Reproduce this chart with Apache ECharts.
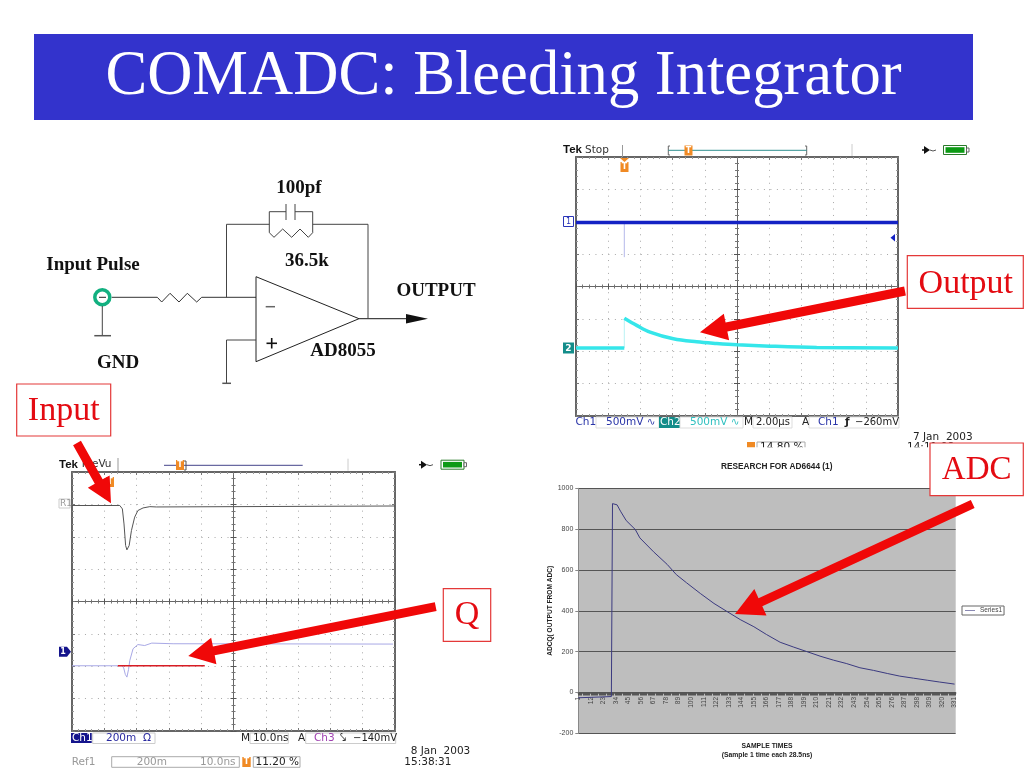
<!DOCTYPE html>
<html><head><meta charset="utf-8">
<style>html,body{margin:0;padding:0;background:#fff}#c{width:1024px;height:768px}</style>
<script src="https://cdn.jsdelivr.net/npm/echarts@6/dist/echarts.min.js"></script>
</head><body><div id="c"></div>
<script>
// Output scope (x in microseconds, y in mV)
const outCh1 = [[0,988],[20,988]];
const outCh1Spike = [[3,988],[3,453]];
const outCh2Base = [[0,-950],[3,-950]];
const outCh2Rise = [[3,-950],[3,-489]];
const outCh2Decay = [[3,-489],[3.77,-600],[4.6,-705],[6.05,-808],[7.5,-855],[8.74,-880],[10,-900],[12.05,-921],[14.95,-941],[20,-950]];
// Input scope (x in ns, y in mV)
const inR1 = [[0,593],[14.8,593],[15.6,572],[16.1,479],[16.6,346],[17,319],[17.7,346],[18.4,438],[19.4,521],[20.4,562],[22,578],[24.1,586],[26.1,584],[100,590]];
const inCh1 = [[0,-397],[15.5,-397],[16,-410],[16.5,-450],[17,-467],[17.5,-420],[17.9,-364],[18.9,-292],[20.4,-266],[22.5,-272],[24.7,-257],[31.3,-261],[99.4,-263]];
const inQ = [[14.2,-397],[41.1,-397]];
// ADC chart (sample index, ADC counts)
const adcValues = [[0,-26],[10,-24],[20,-22],[29,-20],[30,925],[33.7,919],[36.6,888],[42.4,842],[49.7,798],[54,757],[65.8,689],[77.5,627],[86.3,577],[95.1,537],[106.8,485],[118.5,436],[130.2,398],[141.9,357],[153.6,322],[165.3,284],[177,246],[188.6,222],[200.4,201],[212,178],[223.8,158],[235.4,142],[247.1,121],[258.8,108],[270.5,93],[282.2,80],[293.9,70],[305.6,60],[317.3,51],[330,41]];
const adcCategories = Array.from({length:332},(_,i)=>String(i+1));

const serif = '"Liberation Serif","Times New Roman",serif';
const sans = '"Liberation Sans",Arial,sans-serif';
const tek = '"DejaVu Sans",sans-serif';

const grids=[], xAxes=[], yAxes=[];
function scope(rect,xr,yr){
  const g0=grids.length;
  grids.push({left:rect[0],top:rect[1],width:rect[2],height:rect[3],show:false,outerBoundsMode:'none'});
  grids.push({left:rect[0],top:rect[1],width:rect[2],height:rect[3],show:false,outerBoundsMode:'none'});
  const base=(r,extra)=>Object.assign({type:'value',min:r[0],max:r[1],interval:r[2],axisLabel:{show:false},silent:true},extra);
  const frameLine={show:true,onZero:false,lineStyle:{color:'#666',width:2}};
  const frameTick={show:true,inside:true,length:3,lineStyle:{color:'#777',width:1}};
  const frameMinor={show:true,splitNumber:5,length:2,lineStyle:{color:'#999',width:1}};
  const dot=p=>({show:true,lineStyle:{color:'#a8a8a8',width:1,type:[1,p]}});
  const cl={show:true,onZero:false,lineStyle:{color:'#666',width:1}};
  const ct={show:true,length:3,lineStyle:{color:'#555',width:1}};
  const cm={show:true,splitNumber:5,length:2,lineStyle:{color:'#777',width:1}};
  xAxes.push(
    base(xr,{gridIndex:g0,position:'bottom',axisLine:frameLine,axisTick:frameTick,minorTick:frameMinor,splitLine:dot(5.44)}),
    base(xr,{gridIndex:g0,position:'top',axisLine:frameLine,axisTick:frameTick,minorTick:frameMinor,splitLine:{show:false}}),
    base(xr,{gridIndex:g0+1,position:'bottom',offset:-rect[3]/2,axisLine:cl,axisTick:ct,minorTick:cm,splitLine:{show:false}}),
    base(xr,{gridIndex:g0+1,position:'top',offset:-rect[3]/2,axisLine:cl,axisTick:ct,minorTick:cm,splitLine:{show:false}})
  );
  yAxes.push(
    base(yr,{gridIndex:g0,position:'left',axisLine:frameLine,axisTick:frameTick,minorTick:frameMinor,splitLine:dot(5.48)}),
    base(yr,{gridIndex:g0,position:'right',axisLine:frameLine,axisTick:frameTick,minorTick:frameMinor,splitLine:{show:false}}),
    base(yr,{gridIndex:g0+1,position:'left',offset:-rect[2]/2,axisLine:cl,axisTick:ct,minorTick:cm,splitLine:{show:false}}),
    base(yr,{gridIndex:g0+1,position:'right',offset:-rect[2]/2,axisLine:cl,axisTick:ct,minorTick:cm,splitLine:{show:false}})
  );
  return xAxes.length-4;
}
const ax1=scope([576,157,322,259],[0,20,2],[-2000,2000,500]);
const ax2=scope([72,472,323,259],[0,100,10],[-800,800,200]);
grids.push({left:578.3,top:488.3,width:377.4,height:245,show:true,backgroundColor:'#bebebe',borderWidth:0,outerBoundsMode:'none'});
xAxes.push({gridIndex:4,type:'category',data:adcCategories,boundaryGap:false,position:'bottom',offset:-40.8,
  name:'SAMPLE TIMES\n(Sample 1 time each 28.5ns)',nameLocation:'middle',nameGap:49,
  nameTextStyle:{fontFamily:sans,fontSize:6.8,fontWeight:'bold',color:'#222',lineHeight:9.2},
  axisLine:{onZero:false,lineStyle:{color:'#555',width:1.5}},
  axisTick:{show:true,interval:0,length:3,lineStyle:{color:'#555',width:1}},
  axisLabel:{interval:10,rotate:90,fontFamily:sans,fontSize:6.5,color:'#444',margin:4.5},splitLine:{show:false}});
yAxes.push({gridIndex:4,type:'value',min:-200,max:1000,interval:200,
  name:'ADCQ( OUTPUT FROM ADC)',nameLocation:'middle',nameRotate:90,nameGap:24,
  nameTextStyle:{fontFamily:sans,fontSize:6.6,fontWeight:'bold',color:'#222'},
  axisLine:{show:true,onZero:false,lineStyle:{color:'#888'}},axisTick:{show:true,length:3,lineStyle:{color:'#888'}},
  axisLabel:{fontFamily:sans,fontSize:7,color:'#444',margin:5,formatter:v=>String(v)},
  splitLine:{show:true,lineStyle:{color:'#555',width:1}}});

const line=(name,data,ax,color,width,extra)=>Object.assign({type:'line',name,data,xAxisIndex:ax,yAxisIndex:ax,showSymbol:false,symbol:'none',silent:true,animation:false,
  lineStyle:{color,width,cap:'butt'},z:5},extra||{});
const series=[
  line('Ch1 spike',outCh1Spike,ax1,'#b4b8ea',1),
  line('Ch1',outCh1,ax1,'#1422c4',3.5),
  line('Ch2 rise',outCh2Rise,ax1,'#b9f2f4',1),
  line('Ch2 base',outCh2Base,ax1,'#35e6ea',3.5),
  line('Ch2',outCh2Decay,ax1,'#35e6ea',3.5,{smooth:0.35}),
  line('R1',inR1,ax2,'#555555',1),
  line('Ch1 in',inCh1,ax2,'#a9a9e6',1),
  line('Q',inQ,ax2,'#d81c24',1.5),
  {type:'line',name:'Series1',data:adcValues,xAxisIndex:8,yAxisIndex:8,showSymbol:false,symbol:'none',silent:true,animation:false,lineStyle:{color:'#3b3a80',width:1},itemStyle:{color:'#3b3a80'},z:5}
];

// graphic helpers
const G=[];
const T=(text,x,y,o={})=>G.push({type:'text',z:o.z||50,silent:true,style:{text,x,y,fill:o.c||'#222',font:(o.b?'bold ':'')+(o.s||10)+'px '+(o.f||tek),textAlign:o.a||'left',textVerticalAlign:'middle'}});
const PL=(pts,c='#444',w=1,z=20)=>G.push({type:'polyline',z,silent:true,shape:{points:pts},style:{stroke:c,lineWidth:w,fill:null}});
const PG=(pts,c,z=20)=>G.push({type:'polygon',z,silent:true,shape:{points:pts},style:{fill:c}});
const R=(x,y,w,h,fill,stroke,z=20,lw=1)=>G.push({type:'rect',z,silent:true,shape:{x,y,width:w,height:h},style:{fill:fill||null,stroke:stroke||null,lineWidth:lw}});
const C=(cx,cy,r,fill,stroke,lw,z=20)=>G.push({type:'circle',z,silent:true,shape:{cx,cy,r},style:{fill:fill||null,stroke:stroke||null,lineWidth:lw||1}});
function arrow(x1,y1,x2,y2,w,hl,hw){
  const d=Math.hypot(x2-x1,y2-y1),ux=(x2-x1)/d,uy=(y2-y1)/d,nx=-uy,ny=ux,bx=x2-ux*hl,by=y2-uy*hl;
  PG([[x1+nx*w/2,y1+ny*w/2],[bx+nx*w/2,by+ny*w/2],[bx+nx*hw/2,by+ny*hw/2],[x2,y2],[bx-nx*hw/2,by-ny*hw/2],[bx-nx*w/2,by-ny*w/2],[x1-nx*w/2,y1-ny*w/2]],'#f00808',100);
}
// title band
R(34,34,939,86,'#3333cc',null,1);
T('COMADC: Bleeding Integrator',503.5,78,{s:62.6,f:serif,c:'#fff',a:'center'});

// schematic
const wire='#444';
PL([[111.7,297.3],[157.3,297.3],[161.7,302],[170,293.3],[179,302],[187.3,293.3],[196.7,302],[201.7,297.3],[256,297.3]],'#333');
C(102.3,297.3,7.5,'#fff','#12b080',3.5);
PL([[99,297.3],[106,297.3]],'#222');
PL([[102.3,306],[102.3,335.7]]); PL([[94.3,335.7],[111,335.7]],'#555',1.5);
PL([[226.5,297.3],[226.5,224.3],[269.3,224.3]],wire);
PL([[312.7,224.3],[368,224.3],[368,318.3]],wire);
PL([[269.3,232.7],[269.3,211.7],[286,211.7]],wire);
PL([[295,211.7],[312.7,211.7],[312.7,232.7]],wire);
PL([[286,204],[286,220]],wire); PL([[295,204],[295,220]],wire);
PL([[269.3,232.7],[274,237.3],[282.7,229],[291.7,237.3],[300,229],[308.3,237.3],[312.7,232.7]],wire);
PG([[256,276.7],[256,361.7],[359,318.7]],'#fff',18);
PL([[256,276.7],[256,361.7],[359,318.7],[256,276.7]],'#222');
PL([[359,318.7],[408,318.7]],wire,1.2);
PG([[406,314],[406,323.5],[428,318.7]],'#111');
PL([[265.7,306.7],[275,306.7]],'#666',1.5);
PL([[266.5,343.3],[277,343.3]],'#111',1.6); PL([[271.7,338],[271.7,348.5]],'#111',1.6);
PL([[256,340],[226.5,340],[226.5,383.3]],wire);
PL([[222.3,383.3],[231,383.3]],'#555',1.5);
const sb={b:true,s:19,f:serif,c:'#111',a:'center'};
T('100pf',299,188,sb); T('36.5k',307,261,sb); T('Input Pulse',93,265,sb);
T('OUTPUT',436,291,sb); T('GND',118,363,sb); T('AD8055',343,351,sb);

// scope decorations
function hdr(tekX,y,word,wordX,batX,plugX,tickX){
  T('Tek',tekX,y,{b:true,s:11.5,f:sans,c:'#111'});
  T(word,wordX,y,{s:10.5,c:'#333'});
  PG([[plugX+2,y-4],[plugX+2,y+4],[plugX+8,y]],'#111');
  PL([[plugX,y],[plugX+4,y]],'#111',1.5);
  PL([[plugX+8,y],[plugX+11,y+1],[plugX+14,y]],'#555');
  R(batX,y-4.5,23,9,'#fff','#2a7a2a');
  R(batX+2,y-2.8,19,5.6,'#0d9a15');
  R(batX+23,y-2,2.5,4,'#fff','#666');
  PL([[tickX,y-6],[tickX,y+6]],'#ccc');
}
const orange='#f08a24';
function orangeT(x,y){ PG([[x-4,y-5],[x+4,y-5],[x+4,y+5],[x-4,y+5]],orange); T('T',x,y,{s:8,b:true,c:'#fff',a:'center'}); }
hdr(563,150,'Stop',585,943.5,922,852);
PL([[622.5,145],[622.5,157]],'#999');
PL([[670,146],[668.3,146],[668.3,155],[670,155]],'#666');
PL([[805,146],[806.7,146],[806.7,155],[805,155]],'#666');
PL([[668.3,150.3],[806.7,150.3]],'#2f8f8f');
orangeT(688.5,150.5);
PG([[620,158],[629,158],[624.5,162]],orange); orangeT(624.5,167);
R(563.5,216.5,10,10,'#fff','#2a35b8'); T('1',568.5,221.7,{s:8,c:'#2a35b8',a:'center'});
R(563,342.5,11,11,'#148d8a'); T('2',568.5,348.2,{s:9,b:true,c:'#fff',a:'center'});
PG([[890.5,237.7],[895,234],[895,241.5]],'#1422c4');

T('Ch1',575.5,422.5,{c:'#2a35a8',s:10.5});
R(596,417,63,11,'#fff','#ddd'); T('500mV ∿',606,422.5,{c:'#2a35a8',s:10.5});
R(659,417,21,11,'#148d8a'); T('Ch2',660,422.5,{c:'#fff',s:10.5});
R(680,417,63,11,'#fff','#ddd'); T('500mV ∿',690,422.5,{c:'#30c0c0',s:10.5});
T('M',744,422.5,{s:10.5}); R(753,417,39,11,'#fff','#ddd'); T('2.00µs',756,422.5,{s:10});
T('A',802,422.5,{s:10.5}); R(809,417,90,11,'#fff','#ddd');
T('Ch1',818,422.5,{c:'#2a35a8',s:10.5}); T('ƒ',845,422.5,{s:10.5,b:true}); T('−260mV',855,422.5,{s:10});
T('7 Jan  2003',913,437,{s:10.5});
T('14:11:08',907,447,{s:10.5,z:50});
R(757,442,48,12,'#fff','#aaa',48); T('14.80 %',760,447,{s:10.5,z:50});
R(747,442,8,12,orange,null,48);
R(740,447.3,190,12,'#fff',null,60);

hdr(59,464.7,'PreVu',81.7,441,419,348);
PL([[118,458],[118,471]],'#999');
PL([[164,465.3],[302.7,465.3]],'#44448a');
PL([[184,461],[186,461],[186,470],[184,470]],'#555');
orangeT(180,465);
orangeT(110,482);
T('R1',60,503.5,{s:9,c:'#999'}); R(59,499,11,9,null,'#ccc');
PG([[59,646.7],[67,646.7],[71,651.7],[67,656.7],[59,656.7]],'#14148c'); T('1',63,651.7,{s:8,b:true,c:'#fff',a:'center'});
R(71,733,20.7,10,'#14148c'); T('Ch1',72,738,{c:'#fff',s:10.5});
R(92.7,733,62.3,10.5,'#fff','#ccc'); T('200m  Ω',106,738,{c:'#2a2aa0',s:10.5});
T('M',241,738,{s:10.5}); R(250,733,38.3,10.5,'#fff','#ccc'); T('10.0ns',253,738,{s:10.5});
T('A',298,738,{s:10.5}); R(305.7,733,90,10.5,'#fff','#ccc');
T('Ch3',314,738,{c:'#a040b0',s:10.5}); T('⤥',340,738,{s:10.5}); T('−140mV',353,738,{s:10});
T('8 Jan  2003',410.7,751.7,{s:10.5}); T('15:38:31',404.3,762,{s:10.5});
T('Ref1',71.7,762,{c:'#999',s:10.5});
R(111.7,756.7,127.6,10.6,'#fff','#aaa');
T('200m',136.7,762,{c:'#999',s:10.5}); T('10.0ns',200,762,{c:'#999',s:10.5});
R(242.3,757,8.4,10,orange); T('T',246.5,762,{s:8,b:true,c:'#fff',a:'center'});
R(253.3,756.7,46.7,10.6,'#fff','#aaa'); T('11.20 %',255.5,762,{s:10.5});

// red call-outs
const box=(x,y,w,h,t,cx,cy,s)=>{ R(x,y,w,h,'#fff','#e43838',90,1.2); T(t,cx,cy,{s,f:serif,c:'#e40b12',a:'center',z:91}); };
box(16.7,384,94,52,'Input',63.7,411,34);
box(907.3,255.7,116,52.6,'Output',965.8,284,34);
box(443.3,588.7,47.4,52.6,'Q',467,615,34);
box(930,443,93.3,52.7,'ADC',976.7,470,33);
arrow(905,291,700,332.3,9,27,27);
arrow(77,443,111,503.3,9,25,25);
arrow(435.7,606.7,188.3,656,9,26,27);
arrow(972.7,504,735,614,9,28,29);

const chart=echarts.init(document.getElementById('c'),null,{renderer:'canvas'});
chart.setOption({
  animation:false,backgroundColor:'#fff',
  title:{text:'RESEARCH FOR AD6644 (1)',left:771.7,top:458,textAlign:'center',textStyle:{fontFamily:sans,fontSize:8.3,fontWeight:'bold',color:'#222'}},
  legend:{data:['Series1'],left:962,top:606,orient:'vertical',padding:[1,2,1,3],itemWidth:10,itemHeight:6,itemGap:0,icon:'path://M0 3H10V3.6H0Z',
    borderColor:'#666',borderWidth:1,borderRadius:0,backgroundColor:'#fff',textStyle:{fontFamily:sans,fontSize:6.5,color:'#444'},selectedMode:false},
  grid:grids,xAxis:xAxes,yAxis:yAxes,series,graphic:G
});
</script></body></html>
